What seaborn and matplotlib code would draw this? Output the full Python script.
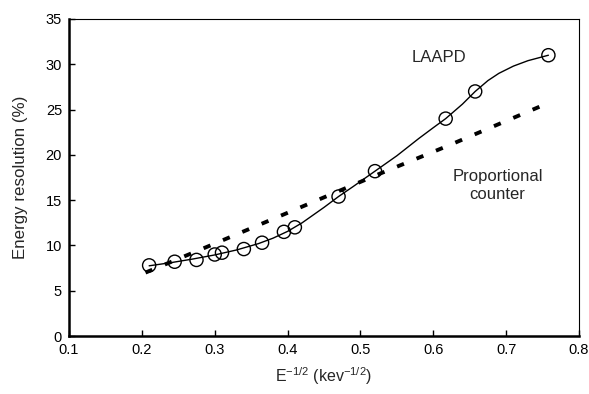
import matplotlib
matplotlib.use("Agg")
import matplotlib.pyplot as plt
import seaborn as sns
import pandas as pd

# Measured points (LAAPD)
laapd_x = [0.21, 0.245, 0.275, 0.30, 0.31, 0.34, 0.365, 0.395, 0.41, 0.47, 0.52, 0.617, 0.6575, 0.758]
laapd_y = [7.8, 8.2, 8.4, 9.0, 9.2, 9.6, 10.3, 11.5, 12.0, 15.4, 18.2, 24.0, 27.0, 31.0]

# Smooth fitted curve through LAAPD points
fit_x = [0.21, 0.24, 0.27, 0.30, 0.33, 0.36, 0.38, 0.40, 0.42, 0.45, 0.47, 0.49,
         0.52, 0.55, 0.58, 0.60, 0.617, 0.64, 0.6575, 0.675, 0.69, 0.71, 0.73, 0.758]
fit_y = [7.75, 8.1, 8.5, 8.95, 9.5, 10.2, 10.8, 11.55, 12.5, 14.2, 15.4, 16.5,
         18.2, 19.9, 21.8, 23.0, 24.0, 25.6, 27.0, 28.2, 29.0, 29.8, 30.4, 31.0]

# Proportional counter (dashed)
pc_x = [0.205, 0.30, 0.40, 0.52, 0.62, 0.76]
pc_y = [7.0, 10.2, 13.6, 17.7, 21.0, 25.8]

sns.set_theme(style="white")
plt.rcParams["font.family"] = ["Liberation Sans", "DejaVu Sans"]
plt.rcParams["mathtext.fontset"] = "custom"
plt.rcParams["mathtext.rm"] = "Liberation Sans"
plt.rcParams["mathtext.it"] = "Liberation Sans"

fig = plt.figure(figsize=(5.89, 3.94), dpi=100)
ax = fig.add_axes([69/589, 58/394, 510/589, 317/394])

df_fit = pd.DataFrame({"x": fit_x, "y": fit_y})
df_pc = pd.DataFrame({"x": pc_x, "y": pc_y})
df_pts = pd.DataFrame({"x": laapd_x, "y": laapd_y})

sns.lineplot(data=df_pc, x="x", y="y", ax=ax, color="black", linewidth=2.8,
             sort=False, estimator=None)
ax.lines[-1].set_linestyle((0, (1.9, 3.5)))
ax.lines[-1].set_dash_capstyle("butt")
sns.lineplot(data=df_fit, x="x", y="y", ax=ax, color="black", linewidth=1.0,
             sort=False, estimator=None)
sns.scatterplot(data=df_pts, x="x", y="y", ax=ax, s=90, facecolor="none",
                edgecolor="black", linewidth=1.0, zorder=5)

ax.set_xlim(0.1, 0.8)
ax.set_ylim(0, 35)
ax.set_xticks([0.1, 0.2, 0.3, 0.4, 0.5, 0.6, 0.7, 0.8])
ax.set_xticklabels(["0.1", "0.2", "0.3", "0.4", "0.5", "0.6", "0.7", "0.8"])
ax.set_yticks([0, 5, 10, 15, 20, 25, 30, 35])
ax.tick_params(direction="in", length=4, width=1, labelsize=10.5, color="black",
               labelcolor="black", pad=5)
ax.tick_params(axis="x", bottom=True)
ax.tick_params(axis="y", left=True)

for side in ["left", "bottom"]:
    ax.spines[side].set_linewidth(1.8)
    ax.spines[side].set_color("black")
for side in ["top", "right"]:
    ax.spines[side].set_linewidth(0.8)
    ax.spines[side].set_color("black")

ax.set_xlabel(r"E$^{-1/2}$ (kev$^{-1/2}$)", fontsize=11.5, labelpad=6)
ax.set_ylabel("Energy resolution (%)", fontsize=12.2, labelpad=13)

ax.text(0.608, 30.7, "LAAPD", fontsize=12, ha="center", va="center")
ax.text(0.688, 16.6, "Proportional\ncounter", fontsize=12, ha="center", va="center",
        linespacing=1.3)

fig.savefig("out.png", dpi=100, facecolor="white")
